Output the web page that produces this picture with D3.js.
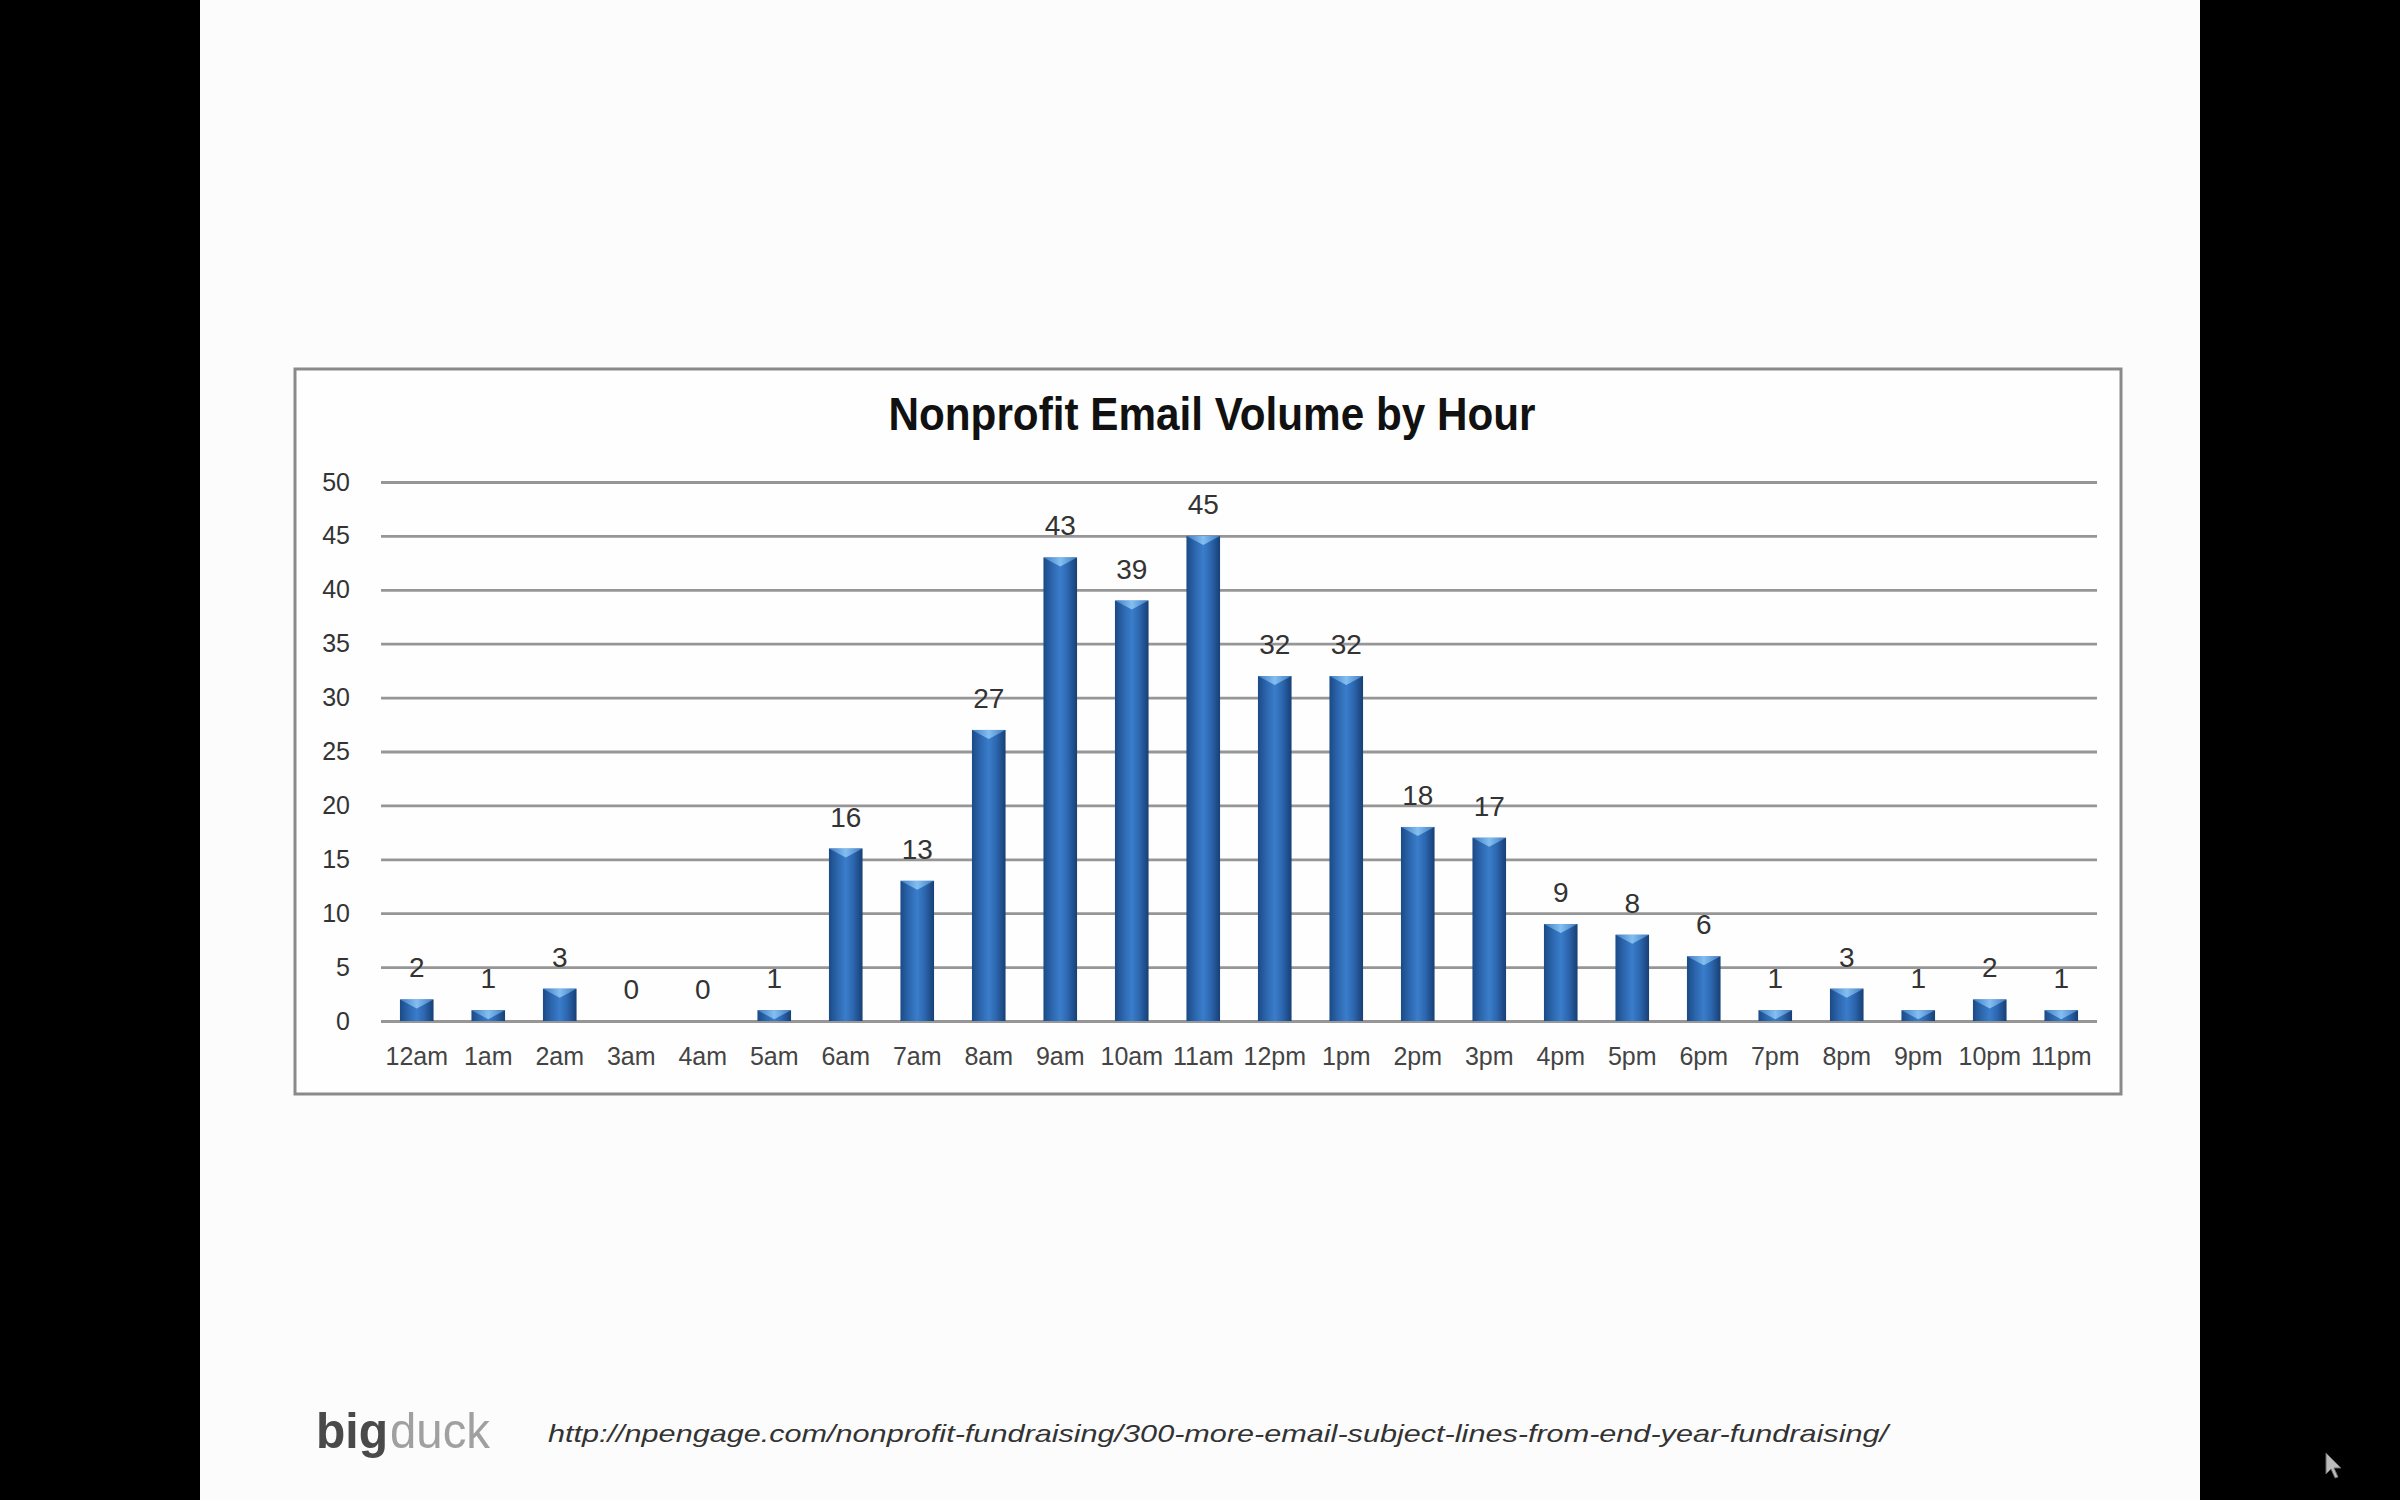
<!DOCTYPE html>
<html>
<head>
<meta charset="utf-8">
<script src="https://cdn.jsdelivr.net/npm/d3@7"></script>
<style>
  html, body { margin: 0; padding: 0; background: #000; }
  svg { display: block; }
</style>
</head>
<body>
<svg id="chart" width="2400" height="1500"></svg>
<script>
// ---- data ----
const hours = ["12am","1am","2am","3am","4am","5am","6am","7am","8am","9am","10am","11am",
               "12pm","1pm","2pm","3pm","4pm","5pm","6pm","7pm","8pm","9pm","10pm","11pm"];
const emails = [2,1,3,0,0,1,16,13,27,43,39,45,32,32,18,17,9,8,6,1,3,1,2,1];
const yTicks = [0,5,10,15,20,25,30,35,40,45,50];
const chartTitle = "Nonprofit Email Volume by Hour";
const sourceUrl = "http://npengage.com/nonprofit-fundraising/300-more-email-subject-lines-from-end-year-fundraising/";

const svg = d3.select("#chart");

// slide background (black pillars on the sides)
svg.append("rect").attr("x",0).attr("y",0).attr("width",2400).attr("height",1500).attr("fill","#000");
svg.append("rect").attr("x",200).attr("y",0).attr("width",2000).attr("height",1500).attr("fill","#fcfcfc");

// chart frame
svg.append("rect").attr("x",295).attr("y",369).attr("width",1826).attr("height",725)
  .attr("fill","#fefefe").attr("stroke","#8a8a8a").attr("stroke-width",3);

// title
svg.append("text").attr("x",1212).attr("y",430).attr("text-anchor","middle")
  .attr("font-family","'Liberation Sans Narrow','Arial Narrow',sans-serif")
  .attr("font-weight","bold").attr("font-size",46).attr("fill","#111")
  .attr("textLength",647).attr("lengthAdjust","spacingAndGlyphs")
  .text(chartTitle);

// scales
const plotL = 381, plotR = 2097, plotT = 482, plotB = 1021;
const x = d3.scaleBand().domain(hours).range([plotL, plotR]).paddingInner(0.53).paddingOuter(0.265);
const y = d3.scaleLinear().domain([0, 50]).range([plotB, plotT]);

// gradients
const defs = svg.append("defs");
const g = defs.append("linearGradient").attr("id","barGrad").attr("x1","0").attr("x2","1").attr("y1","0").attr("y2","0");
[[0,"#1b4a86"],[0.25,"#2c66ad"],[0.5,"#3a7dcb"],[0.72,"#2d67b0"],[1,"#173f74"]]
  .forEach(([o,c]) => g.append("stop").attr("offset",o).attr("stop-color",c));
const gc = defs.append("linearGradient").attr("id","capGrad").attr("x1","0").attr("x2","1").attr("y1","0").attr("y2","0");
[[0,"#3f7fc6"],[0.5,"#8cc6f5"],[1,"#3f7fc6"]]
  .forEach(([o,c]) => gc.append("stop").attr("offset",o).attr("stop-color",c));

// y axis with gridlines
const yAxis = svg.append("g").attr("transform",`translate(${plotL},0)`)
  .call(d3.axisLeft(y).tickValues(yTicks).tickSize(-(plotR - plotL)).tickPadding(31).tickFormat(d3.format("d")));
yAxis.select(".domain").remove();
yAxis.selectAll(".tick line").attr("stroke","#969696").attr("stroke-width",2.8);
yAxis.selectAll(".tick text")
  .attr("font-family","'Liberation Sans','Arial',sans-serif").attr("font-size",25).attr("fill","#333");

// x axis labels
const xAxis = svg.append("g").attr("transform",`translate(0,${plotB})`)
  .call(d3.axisBottom(x).tickSize(0).tickPadding(26));
xAxis.select(".domain").remove();
xAxis.selectAll(".tick text")
  .attr("font-family","'Liberation Sans Narrow','Arial Narrow',sans-serif").attr("font-size",25).attr("fill","#444");

// bars
const bars = svg.append("g").selectAll("g.bar").data(hours.map((h,i)=>({h, v: emails[i]})).filter(d => d.v > 0))
  .join("g").attr("class","bar");
bars.append("rect")
  .attr("x", d => x(d.h)).attr("width", x.bandwidth())
  .attr("y", d => y(d.v)).attr("height", d => plotB - y(d.v))
  .attr("fill","url(#barGrad)");
bars.append("path")
  .attr("d", d => {
    const x0 = x(d.h), w = x.bandwidth(), t = y(d.v);
    const h = Math.min(9, (plotB - t));
    return `M${x0},${t} L${x0+w},${t} L${x0+w/2},${t+h} Z`;
  })
  .attr("fill","url(#capGrad)").attr("opacity",0.9);

// value labels
svg.append("g").selectAll("text").data(hours.map((h,i)=>({h, v: emails[i]})))
  .join("text")
  .attr("x", d => x(d.h) + x.bandwidth()/2)
  .attr("y", d => y(d.v) - 22)
  .attr("text-anchor","middle")
  .attr("font-family","'Liberation Sans Narrow','Arial Narrow',sans-serif")
  .attr("font-size",28).attr("fill","#333")
  .text(d => d.v);

// footer logo
svg.append("text").attr("x",316).attr("y",1448)
  .attr("font-family","'Liberation Sans','Arial',sans-serif").attr("font-size",50)
  .attr("font-weight","bold").attr("fill","#4a4a4a")
  .attr("textLength",72).attr("lengthAdjust","spacingAndGlyphs").text("big");
svg.append("text").attr("x",390).attr("y",1448)
  .attr("font-family","'Liberation Sans','Arial',sans-serif").attr("font-size",50)
  .attr("fill","#a0a0a0")
  .attr("textLength",100).attr("lengthAdjust","spacingAndGlyphs").text("duck");

// source url
svg.append("text").attr("x",548).attr("y",1442)
  .attr("font-family","'Liberation Sans','Arial',sans-serif").attr("font-style","italic")
  .attr("font-size",24).attr("fill","#333")
  .attr("textLength",1340).attr("lengthAdjust","spacingAndGlyphs")
  .text(sourceUrl);

// mouse cursor in corner
svg.append("path")
  .attr("d","M2326,1453 L2326,1474 L2331,1469 L2335,1478 L2338,1477 L2334,1468 L2341,1468 Z")
  .attr("fill","#bbb").attr("stroke","#666").attr("stroke-width",1);
</script>
</body>
</html>
